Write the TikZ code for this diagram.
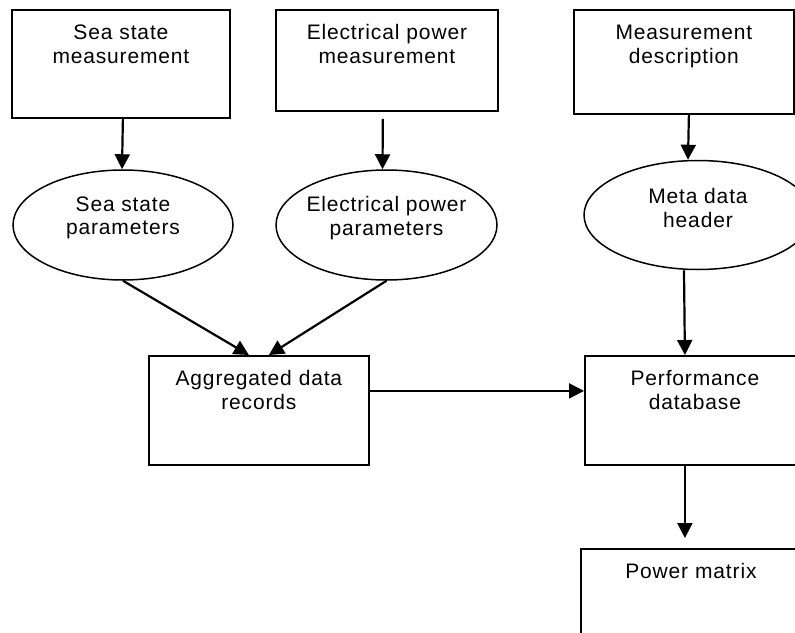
\documentclass[tikz,border=0pt]{standalone}
\usepackage{fontspec}
\setmainfont{Liberation Sans}[LetterSpace=4]
\usepackage{tikz}
\usetikzlibrary{shapes, arrows.meta, positioning, calc}

\begin{document}
\begin{tikzpicture}[x=1pt, y=-1pt,
    every node/.append style={font=\fontsize{21}{23.5}\selectfont},
    procbox/.style={draw, line width=1.8pt, rectangle, anchor=north west, inner sep=0pt, text height=30pt, align=center},
    dataell/.style={draw, line width=1.5pt, ellipse, inner sep=0pt},
    ellabel/.style={align=center, inner sep=0pt, yshift=7pt},
    flow/.style={-{Triangle[length=15pt,width=15pt]}, line width=2.2pt}]
  \clip (0,0) rectangle (795,632);

  % measurements
  \node[procbox, text width=218pt, text depth=78pt] (seameas) at (11,9) {Sea state\\measurement};
  \node[procbox, text width=222pt, text depth=71pt] (elecmeas) at (275,9) {Electrical power\\measurement};
  \node[procbox, text width=220pt, text depth=74pt] (measdesc) at (573,9) {Measurement\\description};

  % parameters
  \node[dataell, minimum width=220pt, minimum height=110pt, label={[ellabel]center:{Sea state\\parameters}}] (seapar) at (123,225) {};
  \node[dataell, minimum width=221pt, minimum height=110pt, label={[ellabel]center:{Electrical power\\parameters}}] (elecpar) at (386.5,225) {};
  \node[dataell, minimum width=228pt, minimum height=109pt, label={[ellabel]center:{Meta data\\header}}] (metahdr) at (698,215) {};

  % records and results
  \node[procbox, text width=220pt, text depth=79pt] (aggrec) at (148,355) {Aggregated data\\records};
  \node[procbox, text width=220pt, text depth=79pt] (perfdb) at (584,355) {Performance\\database};
  \node[procbox, text width=220pt, text depth=100pt] (powmat) at (580,548) {Power matrix};

  \draw[flow] ([xshift=2pt]seameas.south) -- ([xshift=-1pt]seapar.north);
  \draw[flow, shorten <=7pt] ([xshift=-4pt]elecmeas.south) -- ([xshift=-4pt]elecpar.north);
  \draw[flow] ([xshift=5pt]measdesc.south) -- ([xshift=-10pt]metahdr.north);
  \draw[flow] (seapar.south) -- ([xshift=-10pt]aggrec.north);
  \draw[flow] (elecpar.south) -- ([xshift=10pt]aggrec.north);
  \draw[flow] ([xshift=-14pt]metahdr.south) -- ([xshift=-10pt]perfdb.north);
  \draw[flow] ([yshift=19.5pt]aggrec.east) -- ([yshift=19.5pt]perfdb.west);
  \draw[flow, shorten >=10pt] ([xshift=-10pt]perfdb.south) -- ([xshift=-6pt]powmat.north);
\end{tikzpicture}
\end{document}
